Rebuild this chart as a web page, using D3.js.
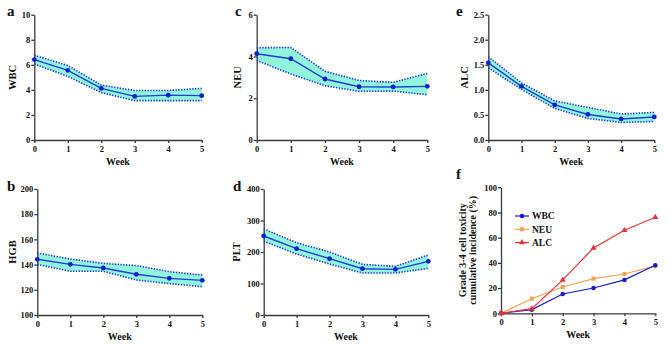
<!DOCTYPE html>
<html><head><meta charset="utf-8">
<script src="https://cdn.jsdelivr.net/npm/d3@7"></script>
<style>body{margin:0;background:#fff}svg{display:block}svg text{font-family:"Liberation Serif","DejaVu Serif","Times New Roman",serif !important;font-weight:bold}</style>
</head><body><svg id="c" width="669" height="345"></svg>
<script>
const weeks = [0,1,2,3,4,5];
const wbcMean = [6.42,5.56,4.12,3.48,3.58,3.54];
const wbcUpper = [6.76,5.95,4.38,3.95,3.95,4.12];
const wbcLower = [6.06,5.08,3.78,3.14,3.14,3.14];
const neuMean = [4.13,3.89,2.92,2.55,2.54,2.57];
const neuUpper = [4.42,4.43,3.29,2.85,2.76,3.19];
const neuLower = [3.81,3.16,2.60,2.33,2.34,2.17];
const alcMean = [1.54,1.07,0.70,0.51,0.42,0.46];
const alcUpper = [1.66,1.14,0.78,0.65,0.52,0.55];
const alcLower = [1.44,1.01,0.63,0.43,0.35,0.37];
const hgbMean = [144.2,140.2,137.3,132.3,129.1,127.5];
const hgbUpper = [149.2,144.4,141.0,139.2,134.4,131.7];
const hgbLower = [140.2,134.7,134.7,127.8,124.9,122.5];
const pltMean = [250.8,210.6,178.8,147.0,145.0,170.4];
const pltUpper = [273.0,229.6,200.0,160.8,154.5,190.5];
const pltLower = [233.9,193.7,161.9,133.3,133.3,148.0];
const toxSeries = ["WBC","NEU","ALC"];
const toxWBC = [0,2.9,15.3,20.1,26.5,38.1];
const toxNEU = [0,11.6,20.9,27.5,31.2,37.6];
const toxALC = [0,3.7,26.5,51.9,65.9,76.2];
const wbcTicks = [0,2,4,6,8,10];
const neuTicks = [0,2,4,6];
const alcTicks = [0,0.5,1,1.5,2,2.5];
const hgbTicks = [100,120,140,160,180,200];
const pltTicks = [0,100,200,300,400];
const toxTicks = [0,20,40,60,80,100];

const svg = d3.select("#c");
const axisCol = "#3a3a3a";
const FONT = '"Liberation Serif","DejaVu Serif",serif';

function panel(o){
  const x = d3.scaleLinear().domain([0,5]).range([o.x0,o.x1]);
  const y = d3.scaleLinear().domain(o.domain).range([o.yB,o.yT]);
  const g = svg.append("g");
  const fmt = o.fmt || (d=>d);
  const ya = g.append("g").attr("transform",`translate(${o.x0},0)`)
    .call(d3.axisLeft(y).tickValues(o.ticks).tickSize(3).tickSizeOuter(0).tickFormat(fmt));
  const xa = g.append("g").attr("transform",`translate(0,${o.yB})`)
    .call(d3.axisBottom(x).tickValues(weeks).tickSize(3).tickSizeOuter(0).tickFormat(d3.format("d")));
  [ya,xa].forEach(a=>{
    a.attr("font-family",FONT);
    a.selectAll("path,line").attr("stroke",axisCol).attr("stroke-width",1.3);
    a.selectAll("text").attr("font-family",FONT).attr("font-weight","bold").attr("font-size",8.5).attr("fill","#111");
  });
  ya.selectAll("text").attr("x",-4);
  xa.selectAll("text").attr("y",6);
  g.append("text").attr("x",(o.x0+o.x1)/2).attr("y",o.yB+25).attr("text-anchor","middle")
    .attr("font-size",10).attr("fill","#111").text("Week");
  const lx = o.lx;
  const lines = [].concat(o.ylabel);
  lines.forEach((t,i)=>{
    g.append("text").attr("transform",`translate(${lx+i*10},${(o.yT+o.yB)/2}) rotate(-90)`)
     .attr("text-anchor","middle").attr("font-size",o.ysize||10.5).attr("fill","#111").text(t);
  });
  svg.append("text").attr("x",o.lpx).attr("y",o.lpy).attr("font-size",15).attr("fill","#111").text(o.letter);
  return {g,x,y};
}

function band(o, mean, up, lo){
  const p = panel(o);
  const {g,x,y} = p;
  const area = d3.area().x((d,i)=>x(weeks[i])).y0((d,i)=>y(lo[i])).y1((d,i)=>y(up[i]));
  g.insert("path",":first-child").datum(mean).attr("d",area).attr("fill","#92f4da");
  const line = arr => d3.line().x((d,i)=>x(weeks[i])).y(d=>y(d))(arr);
  [up,lo].forEach(arr=>g.append("path").attr("d",line(arr)).attr("fill","none")
     .attr("stroke","#1f3fd8").attr("stroke-width",1.6).attr("stroke-dasharray","1.4,1.4"));
  g.append("path").attr("d",line(mean)).attr("fill","none").attr("stroke","#1f3fd8").attr("stroke-width",1.4);
  g.selectAll("circle.m").data(mean).enter().append("circle")
    .attr("cx",(d,i)=>x(weeks[i])).attr("cy",d=>y(d)).attr("r",2.4).attr("fill","#0a1fd0");
}

band({x0:34.3,x1:201.7,yT:14.7,yB:140,domain:[0,10],ticks:wbcTicks,ylabel:"WBC",lx:16,letter:"a",lpx:7,lpy:16},wbcMean,wbcUpper,wbcLower);
band({x0:256.7,x1:427.3,yT:14.7,yB:140,domain:[0,6],ticks:neuTicks,ylabel:"NEU",lx:241,letter:"c",lpx:235,lpy:16},neuMean,neuUpper,neuLower);
band({x0:488.3,x1:654.3,yT:14.7,yB:140,domain:[0,2.5],ticks:alcTicks,ylabel:"ALC",lx:468,letter:"e",lpx:456,lpy:16,fmt:d3.format(".1f")},alcMean,alcUpper,alcLower);
band({x0:37.3,x1:202.3,yT:189,yB:315,domain:[100,200],ticks:hgbTicks,ylabel:"HGB",lx:16,letter:"b",lpx:7,lpy:191},hgbMean,hgbUpper,hgbLower);
band({x0:263.7,x1:428.3,yT:189,yB:315,domain:[0,400],ticks:pltTicks,ylabel:"PLT",lx:240,letter:"d",lpx:233,lpy:191},pltMean,pltUpper,pltLower);

(function(){
  const o = {x0:501,x1:655.3,yT:187.3,yB:313.3,domain:[0,100],ticks:toxTicks,
    ylabel:["Grade 3-4 cell toxicity","cumulative incidence (%)"],lx:466,ysize:10,letter:"f",lpx:456,lpy:179};
  const {g,x,y} = panel(o);
  const colors = {WBC:"#1a1ad6",NEU:"#f2a54a",ALC:"#ea3038"};
  const vals = {WBC:toxWBC,NEU:toxNEU,ALC:toxALC};
  const shapes = {WBC:d3.symbolCircle,NEU:d3.symbolSquare,ALC:d3.symbolTriangle};
  const line = d3.line().x((d,i)=>x(weeks[i])).y(d=>y(d));
  ["NEU","WBC","ALC"].forEach(k=>{
    g.append("path").attr("d",line(vals[k])).attr("fill","none").attr("stroke",colors[k]).attr("stroke-width",1.2);
    g.selectAll(null).data(vals[k]).enter().append("path")
      .attr("d",d3.symbol().type(shapes[k]).size(16))
      .attr("transform",(d,i)=>`translate(${x(weeks[i])},${y(d)})`).attr("fill",colors[k]);
  });
  toxSeries.forEach((k,i)=>{
    const ly = 216 + i*13.3;
    g.append("line").attr("x1",515).attr("x2",529).attr("y1",ly).attr("y2",ly).attr("stroke",colors[k]).attr("stroke-width",1.2);
    g.append("path").attr("d",d3.symbol().type(shapes[k]).size(16)).attr("transform",`translate(522,${ly})`).attr("fill",colors[k]);
    g.append("text").attr("x",532).attr("y",ly+3.2).attr("font-size",9.5).attr("fill","#111").text(k);
  });
})();
</script></body></html>
